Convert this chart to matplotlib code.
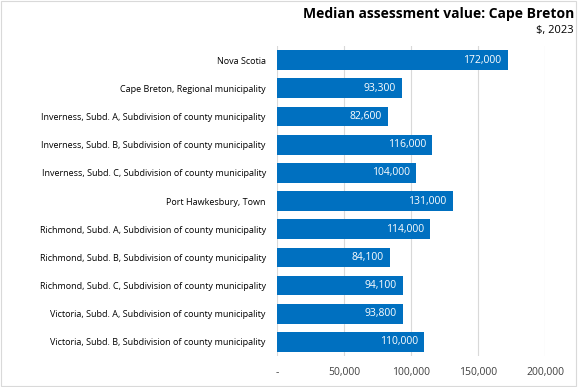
import matplotlib.pyplot as plt
from matplotlib.ticker import FuncFormatter

categories = [
    "Nova Scotia",
    "Cape Breton, Regional municipality",
    "Inverness, Subd. A, Subdivision of county municipality",
    "Inverness, Subd. B, Subdivision of county municipality",
    "Inverness, Subd. C, Subdivision of county municipality",
    "Port Hawkesbury, Town",
    "Richmond, Subd. A, Subdivision of county municipality",
    "Richmond, Subd. B, Subdivision of county municipality",
    "Richmond, Subd. C, Subdivision of county municipality",
    "Victoria, Subd. A, Subdivision of county municipality",
    "Victoria, Subd. B, Subdivision of county municipality",
]
values = [172000, 93300, 82600, 116000, 104000, 131000, 114000, 84100, 94100, 93800, 110000]
xticks = [0, 50000, 100000, 150000, 200000]

plt.rcParams["font.family"] = ["Open Sans", "DejaVu Sans"]

fig = plt.figure(figsize=(5.78, 3.87), dpi=100)
ax = fig.add_axes([0.479, 0.080, 0.464, 0.801])

y = list(range(len(categories)))
ax.barh(y, values, height=0.7, color="#0070C0", zorder=2)
ax.set_ylim(len(categories) - 0.5, -0.5)
ax.set_xlim(0, 200000)

for yi, v in zip(y, values):
    ax.text(v - 4500, yi, f"{v:,}", ha="right", va="center", color="white", fontsize=7.5, zorder=3)

ax.set_yticks(y)
ax.set_yticklabels(categories, fontsize=6.5)
ax.set_xticks(xticks)
ax.xaxis.set_major_formatter(FuncFormatter(lambda v, p: "-" if v == 0 else f"{int(v):,}"))
ax.tick_params(axis="x", labelsize=7.5, length=0, pad=8, colors="#404040")
ax.tick_params(axis="y", length=0, pad=8)
ax.grid(axis="x", color="#D9D9D9", lw=0.8, zorder=0)
for s in ax.spines.values():
    s.set_visible(False)

fig.text(0.993, 0.965, "Median assessment value: Cape Breton", ha="right", va="center",
         fontsize=10, fontweight="bold")
fig.text(0.993, 0.922, "$, 2023", ha="right", va="center", fontsize=8)

fig.patches.append(plt.Rectangle((0.002, 0.003), 0.995, 0.994, transform=fig.transFigure,
                                 fill=False, edgecolor="#D9D9D9", lw=0.8))

fig.savefig("out.png", dpi=100)
